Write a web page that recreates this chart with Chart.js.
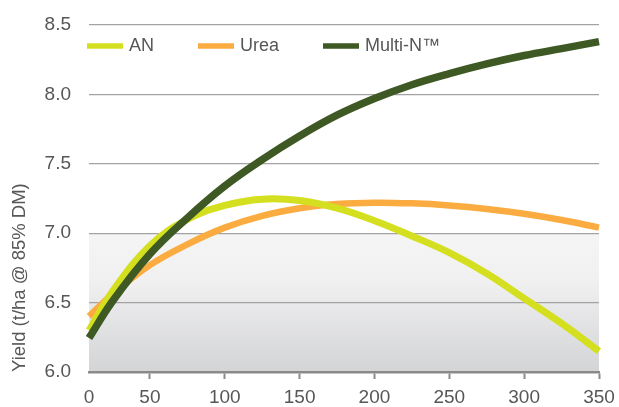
<!DOCTYPE html>
<html lang="en">
<head>
  <meta charset="UTF-8">
  <title>Yield response</title>
  <script src="https://cdn.jsdelivr.net/npm/chart.js"></script>
  <style>
    html, body {
      margin: 0;
      padding: 0;
      background: #ffffff;
    }
    .chart-container {
      position: relative;
      width: 619px;
      height: 407px;
    }
  </style>
</head>
<body>
  <div class="chart-container">
    <canvas id="yieldChart"></canvas>
  </div>

  <script>
    // Data (x = N rate, y = yield t/ha @ 85% DM)
    const xValues = [9.3, 25, 50, 75, 100, 125, 150, 175, 200, 225, 250, 275, 300, 325, 350];
    const anYield = [6.30, 6.58, 6.91, 7.10, 7.20, 7.245, 7.235, 7.18, 7.09, 6.98, 6.86, 6.71, 6.53, 6.35, 6.15];
    const ureaYield = [6.40, 6.56, 6.77, 6.92, 7.04, 7.125, 7.18, 7.21, 7.22, 7.215, 7.20, 7.175, 7.14, 7.095, 7.04];
    const multiNYield = [6.245, 6.51, 6.85, 7.11, 7.34, 7.53, 7.70, 7.85, 7.97, 8.07, 8.15, 8.22, 8.28, 8.33, 8.38];

    const seriesNames = ["AN", "Urea", "Multi-N\u2122"];
    const seriesColors = ["#d4df1f", "#fbac40", "#3e5923"];

    const xTickValues = [9.3, 50, 100, 150, 200, 250, 300, 350];
    const xTickLabels = ["0", "50", "100", "150", "200", "250", "300", "350"];

    const textColor = "#575757";
    const fontFamily = "'Liberation Sans', Arial, sans-serif";

    function toPoints(ys) {
      return xValues.map((x, i) => ({ x: x, y: ys[i] }));
    }

    // grey gradient panel between 6.0 and 7.0, drawn under the grid
    const panelPlugin = {
      id: 'panel',
      beforeDraw(chart) {
        const { ctx, chartArea, scales } = chart;
        const top = scales.y.getPixelForValue(7.0);
        const bottom = scales.y.getPixelForValue(6.0);
        const g = ctx.createLinearGradient(0, top, 0, bottom);
        g.addColorStop(0, "#f5f5f5");
        g.addColorStop(0.35, "#f0f0f1");
        g.addColorStop(1, "#d3d4d6");
        ctx.save();
        ctx.fillStyle = g;
        ctx.fillRect(chartArea.left, top, chartArea.right - chartArea.left, bottom - top);
        ctx.restore();
      }
    };

    // legend drawn inside the plot, one entry after another
    const legendPlugin = {
      id: 'insideLegend',
      afterDraw(chart) {
        const { ctx, chartArea } = chart;
        let x = chartArea.left - 2;
        const y = 46;
        ctx.save();
        ctx.font = "18px " + fontFamily;
        ctx.textBaseline = "middle";
        seriesNames.forEach((name, i) => {
          ctx.strokeStyle = seriesColors[i];
          ctx.lineWidth = 5.5;
          ctx.beginPath();
          ctx.moveTo(x, y);
          ctx.lineTo(x + 36, y);
          ctx.stroke();
          ctx.fillStyle = textColor;
          ctx.fillText(name, x + 42, y);
          x += 42 + ctx.measureText(name).width + 44;
        });
        ctx.restore();
      }
    };

    const ctx = document.getElementById('yieldChart').getContext('2d');
    const chart = new Chart(ctx, {
      type: 'line',
      data: {
        datasets: [
          {
            label: seriesNames[0],
            data: toPoints(anYield),
            borderColor: seriesColors[0],
            borderWidth: 7,
            order: 1
          },
          {
            label: seriesNames[1],
            data: toPoints(ureaYield),
            borderColor: seriesColors[1],
            borderWidth: 6.5,
            order: 2
          },
          {
            label: seriesNames[2],
            data: toPoints(multiNYield),
            borderColor: seriesColors[2],
            borderWidth: 7.5,
            order: 0
          }
        ]
      },
      options: {
        responsive: true,
        maintainAspectRatio: false,
        animation: false,
        layout: {
          padding: { top: 25, right: 20, left: 0, bottom: 0 }
        },
        elements: {
          point: { radius: 0 },
          line: { tension: 0.4, fill: false }
        },
        datasets: {
          line: { clip: false }
        },
        scales: {
          x: {
            type: 'linear',
            min: xValues[0],
            max: 350,
            afterBuildTicks(axis) {
              axis.ticks = xTickValues.map(v => ({ value: v }));
            },
            afterFit(axis) {
              axis.height = 35;
              axis.paddingLeft = 0;
              axis.paddingRight = 0;
            },
            border: { display: true, color: "#8a8a8a", width: 2.5 },
            grid: {
              drawOnChartArea: false,
              tickLength: 7,
              tickWidth: 2,
              tickColor: c => (c.index === 0 ? "rgba(0,0,0,0)" : "#8a8a8a")
            },
            ticks: {
              padding: 7,
              color: textColor,
              font: { size: 19, family: fontFamily },
              maxRotation: 0,
              autoSkip: false,
              callback: (value, index) => xTickLabels[index]
            }
          },
          y: {
            min: 6.0,
            max: 8.5,
            afterFit(axis) {
              axis.width = 89;
              axis.paddingTop = 0;
              axis.paddingBottom = 0;
            },
            border: { display: false },
            grid: {
              color: "#a3a3a3",
              lineWidth: 1.3,
              drawTicks: false
            },
            ticks: {
              stepSize: 0.5,
              padding: 18,
              color: textColor,
              font: { size: 19, family: fontFamily },
              callback: v => v.toFixed(1)
            },
            title: {
              display: true,
              text: "Yield (t/ha @ 85% DM)",
              align: 'start',
              color: textColor,
              font: { size: 18.5, family: fontFamily },
              padding: { top: 9, bottom: 0 }
            }
          }
        },
        plugins: {
          legend: { display: false },
          tooltip: { enabled: false }
        }
      },
      plugins: [panelPlugin, legendPlugin]
    });
  </script>
</body>
</html>
